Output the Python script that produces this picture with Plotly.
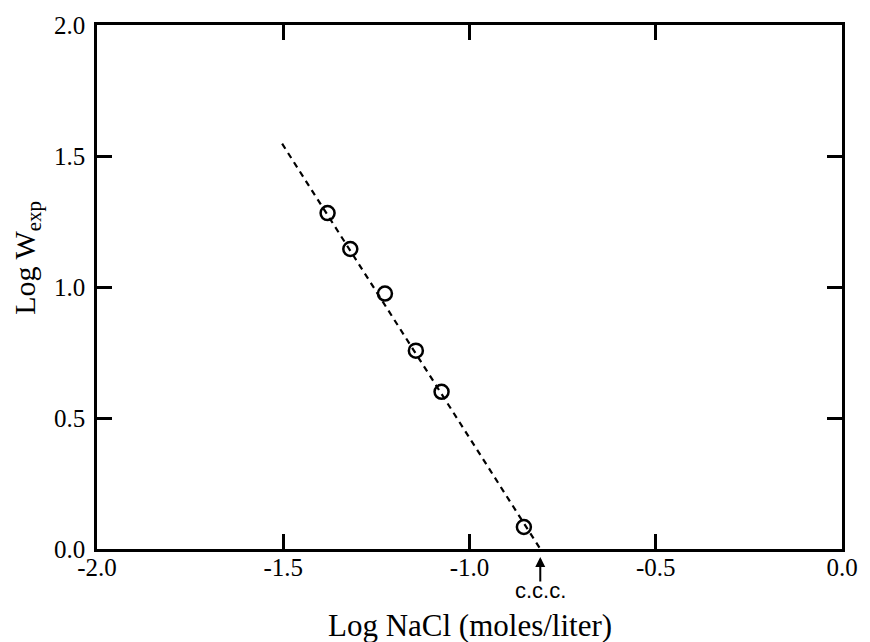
import plotly.graph_objects as go

# Data
log_nacl = [-1.381, -1.320, -1.227, -1.144, -1.075, -0.854]
log_w = [1.282, 1.145, 0.975, 0.757, 0.600, 0.084]

# Fitted (dashed) line endpoints
fit_x = [-1.503, -0.810]
fit_y = [1.547, 0.0]
ccc_x = -0.810

x_ticks = [-2.0, -1.5, -1.0, -0.5, 0.0]
x_ticktext = ["-2.0", "-1.5", "-1.0", "-0.5", "0.0"]
y_ticks = [0.0, 0.5, 1.0, 1.5, 2.0]
y_ticktext = ["0.0", "0.5", "1.0", "1.5", "2.0"]

serif = "Liberation Serif"
sans = "Liberation Sans"

fig = go.Figure()
fig.add_trace(go.Scatter(
    x=fit_x, y=fit_y, mode="lines",
    line=dict(color="black", width=2.2, dash="6px,5px"),
    showlegend=False, hoverinfo="skip",
))
fig.add_trace(go.Scatter(
    x=log_nacl, y=log_w, mode="markers",
    marker=dict(symbol="circle-open", size=14, color="black", line=dict(width=2.5, color="black")),
    showlegend=False,
))

# c.c.c. arrow and label
fig.add_annotation(
    x=ccc_x, y=0, xref="x", yref="y",
    text="", showarrow=True,
    ax=0, ay=34, standoff=8,
    arrowhead=2, arrowsize=1, arrowwidth=2, arrowcolor="black",
)
fig.add_annotation(
    x=ccc_x, y=0, xref="x", yref="y",
    text="c.c.c.", showarrow=False, yshift=-41,
    xanchor="center", yanchor="middle",
    font=dict(family=sans, size=22, color="black"),
)

# Axis titles
fig.add_annotation(
    x=0.5, y=0, xref="paper", yref="paper", yshift=-76,
    xanchor="center", yanchor="middle", showarrow=False,
    text="Log NaCl (moles/liter)",
    font=dict(family=serif, size=31, color="black"),
)
fig.add_annotation(
    x=0, y=0.5556, xref="paper", yref="paper", xshift=-70,
    xanchor="center", yanchor="middle", showarrow=False, textangle=-90,
    text="Log W<sub>exp</sub>",
    font=dict(family=serif, size=30, color="black"),
)

axis_common = dict(
    showline=True, linecolor="black", linewidth=2.5, mirror="ticks",
    ticks="inside", ticklen=15, tickwidth=2.5, tickcolor="black",
    showgrid=False, zeroline=False,
    tickfont=dict(family=serif, size=25, color="black"),
)

fig.update_xaxes(range=[-2.0, 0.0], tickvals=x_ticks, ticktext=x_ticktext,
                 ticklabelstandoff=-6, **axis_common)
fig.update_yaxes(range=[0.0, 2.0], tickvals=y_ticks, ticktext=y_ticktext,
                 ticklabelstandoff=4, **axis_common)

fig.update_layout(
    width=870, height=642,
    margin=dict(l=97, r=18, t=18, b=93),
    plot_bgcolor="white", paper_bgcolor="white",
    font=dict(family=serif, color="black"),
)

fig.write_html("out.html", config={"displayModeBar": False})

# remove default body margin so the figure sits at the page origin
with open("out.html", "r", encoding="utf-8") as f:
    html = f.read()
html = html.replace("<body>", '<body style="margin:0;padding:0;overflow:hidden;">', 1)
with open("out.html", "w", encoding="utf-8") as f:
    f.write(html)
